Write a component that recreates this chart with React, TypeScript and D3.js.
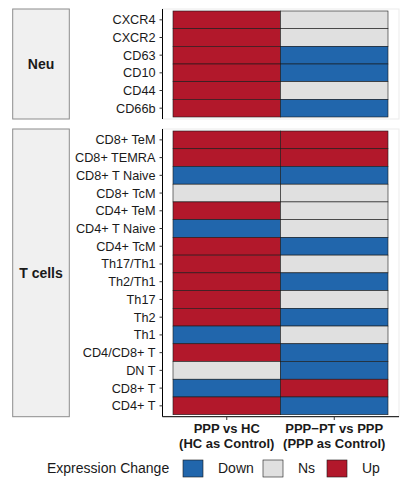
import React from 'react';
import * as d3 from 'd3';

// Data
const comparisons = ['PPP vs HC', 'PPP-PT vs PPP'];
const comparisonLines = [
  ['PPP vs HC', '(HC as Control)'],
  ['PPP\u2212PT vs PPP', '(PPP as Control)'],
];

const neuCells = ['CXCR4', 'CXCR2', 'CD63', 'CD10', 'CD44', 'CD66b'];
const neuVsHC = ['Up', 'Up', 'Up', 'Up', 'Up', 'Up'];
const neuVsPPP = ['Ns', 'Ns', 'Down', 'Down', 'Ns', 'Down'];

const tCells = [
  'CD8+ TeM', 'CD8+ TEMRA', 'CD8+ T Naive', 'CD8+ TcM', 'CD4+ TeM', 'CD4+ T Naive',
  'CD4+ TcM', 'Th17/Th1', 'Th2/Th1', 'Th17', 'Th2', 'Th1', 'CD4/CD8+ T', 'DN T',
  'CD8+ T', 'CD4+ T',
];
const tVsHC = ['Up', 'Up', 'Down', 'Ns', 'Up', 'Down', 'Up', 'Up', 'Up', 'Up', 'Up', 'Down', 'Up', 'Ns', 'Down', 'Up'];
const tVsPPP = ['Up', 'Up', 'Down', 'Ns', 'Ns', 'Ns', 'Down', 'Ns', 'Down', 'Ns', 'Down', 'Ns', 'Down', 'Down', 'Up', 'Down'];

const levels = ['Down', 'Ns', 'Up'];
const levelColors = ['#2166AC', '#E0E0E0', '#B2182B'];

const font = '"Liberation Sans", Arial, sans-serif';

const App: React.FC = () => {
  const width = 408;
  const height = 484;

  const color = d3.scaleOrdinal<string, string>().domain(levels).range(levelColors);
  const x = d3.scaleBand().domain(comparisons).range([173, 388]);

  const axisX = 162.5;
  const panelRight = 399;

  const panels = [
    { name: 'Neu', cells: neuCells, vals: [neuVsHC, neuVsPPP], top: 9, bottom: 119 },
    { name: 'T cells', cells: tCells, vals: [tVsHC, tVsPPP], top: 129, bottom: 416.7 },
  ];

  return (
    <svg width={width} height={height} style={{ position: 'absolute', left: 0, top: 0 }} fontFamily={font}>
      <rect width={width} height={height} fill="#fff" />
      {panels.map((p, pi) => {
        const y = d3.scaleBand().domain(p.cells).range([p.top + 2, p.bottom - 2]);
        return (
          <g key={p.name}>
            {/* strip */}
            <rect x={12.7} y={p.top} width={56.6} height={p.bottom - p.top}
              fill="#F0F0F0" stroke="#8C8C8C" strokeWidth={1} />
            <text x={41} y={(p.top + p.bottom) / 2 + 5} textAnchor="middle"
              fontSize={14} fontWeight="bold" fill="#1a1a1a">{p.name}</text>
            {/* panel border */}
            <rect x={axisX} y={p.top} width={panelRight - axisX} height={p.bottom - p.top}
              fill="none" stroke="#EBEBEB" strokeWidth={1} />
            {/* tiles */}
            {p.cells.map((c, ri) =>
              comparisons.map((cmp, ci) => (
                <rect key={c + cmp} x={x(cmp)} y={y(c)} width={x.bandwidth()} height={y.bandwidth()}
                  fill={color(p.vals[ci][ri])} stroke="#1a1a1a" strokeWidth={0.6} />
              ))
            )}
            {/* y axis */}
            <line x1={axisX} x2={axisX} y1={p.top} y2={p.bottom} stroke="#000" strokeWidth={1} />
            {p.cells.map(c => {
              const cy = (y(c) as number) + y.bandwidth() / 2;
              return (
                <g key={c}>
                  <line x1={axisX - 3} x2={axisX} y1={cy} y2={cy} stroke="#333" strokeWidth={1} />
                  <text x={155.5} y={cy + 4.5} textAnchor="end" fontSize={12.7} fill="#1a1a1a">{c}</text>
                </g>
              );
            })}
          </g>
        );
      })}
      {/* x axis */}
      <line x1={axisX} x2={panelRight} y1={416.7} y2={416.7} stroke="#000" strokeWidth={1} />
      {comparisons.map((cmp, i) => {
        const cx = (x(cmp) as number) + x.bandwidth() / 2;
        return (
          <g key={cmp}>
            <line x1={cx} x2={cx} y1={416.7} y2={420} stroke="#333" strokeWidth={1} />
            <text x={cx} y={433} textAnchor="middle" fontSize={13} fontWeight="bold" fill="#1a1a1a">
              {comparisonLines[i][0]}
            </text>
            <text x={cx} y={447.5} textAnchor="middle" fontSize={13} fontWeight="bold" fill="#1a1a1a">
              {comparisonLines[i][1]}
            </text>
          </g>
        );
      })}
      {/* legend */}
      <text x={47} y={473} fontSize={14} fill="#1a1a1a">Expression Change</text>
      {levels.map((lv, i) => {
        const bx = [183, 263, 327][i];
        const tx = [218, 298, 362][i];
        return (
          <g key={lv}>
            <rect x={bx} y={460} width={20} height={17} fill={color(lv)} stroke="#1a1a1a" strokeWidth={0.6} />
            <text x={tx} y={473} fontSize={14} fill="#1a1a1a">{lv}</text>
          </g>
        );
      })}
    </svg>
  );
};

export default App;
